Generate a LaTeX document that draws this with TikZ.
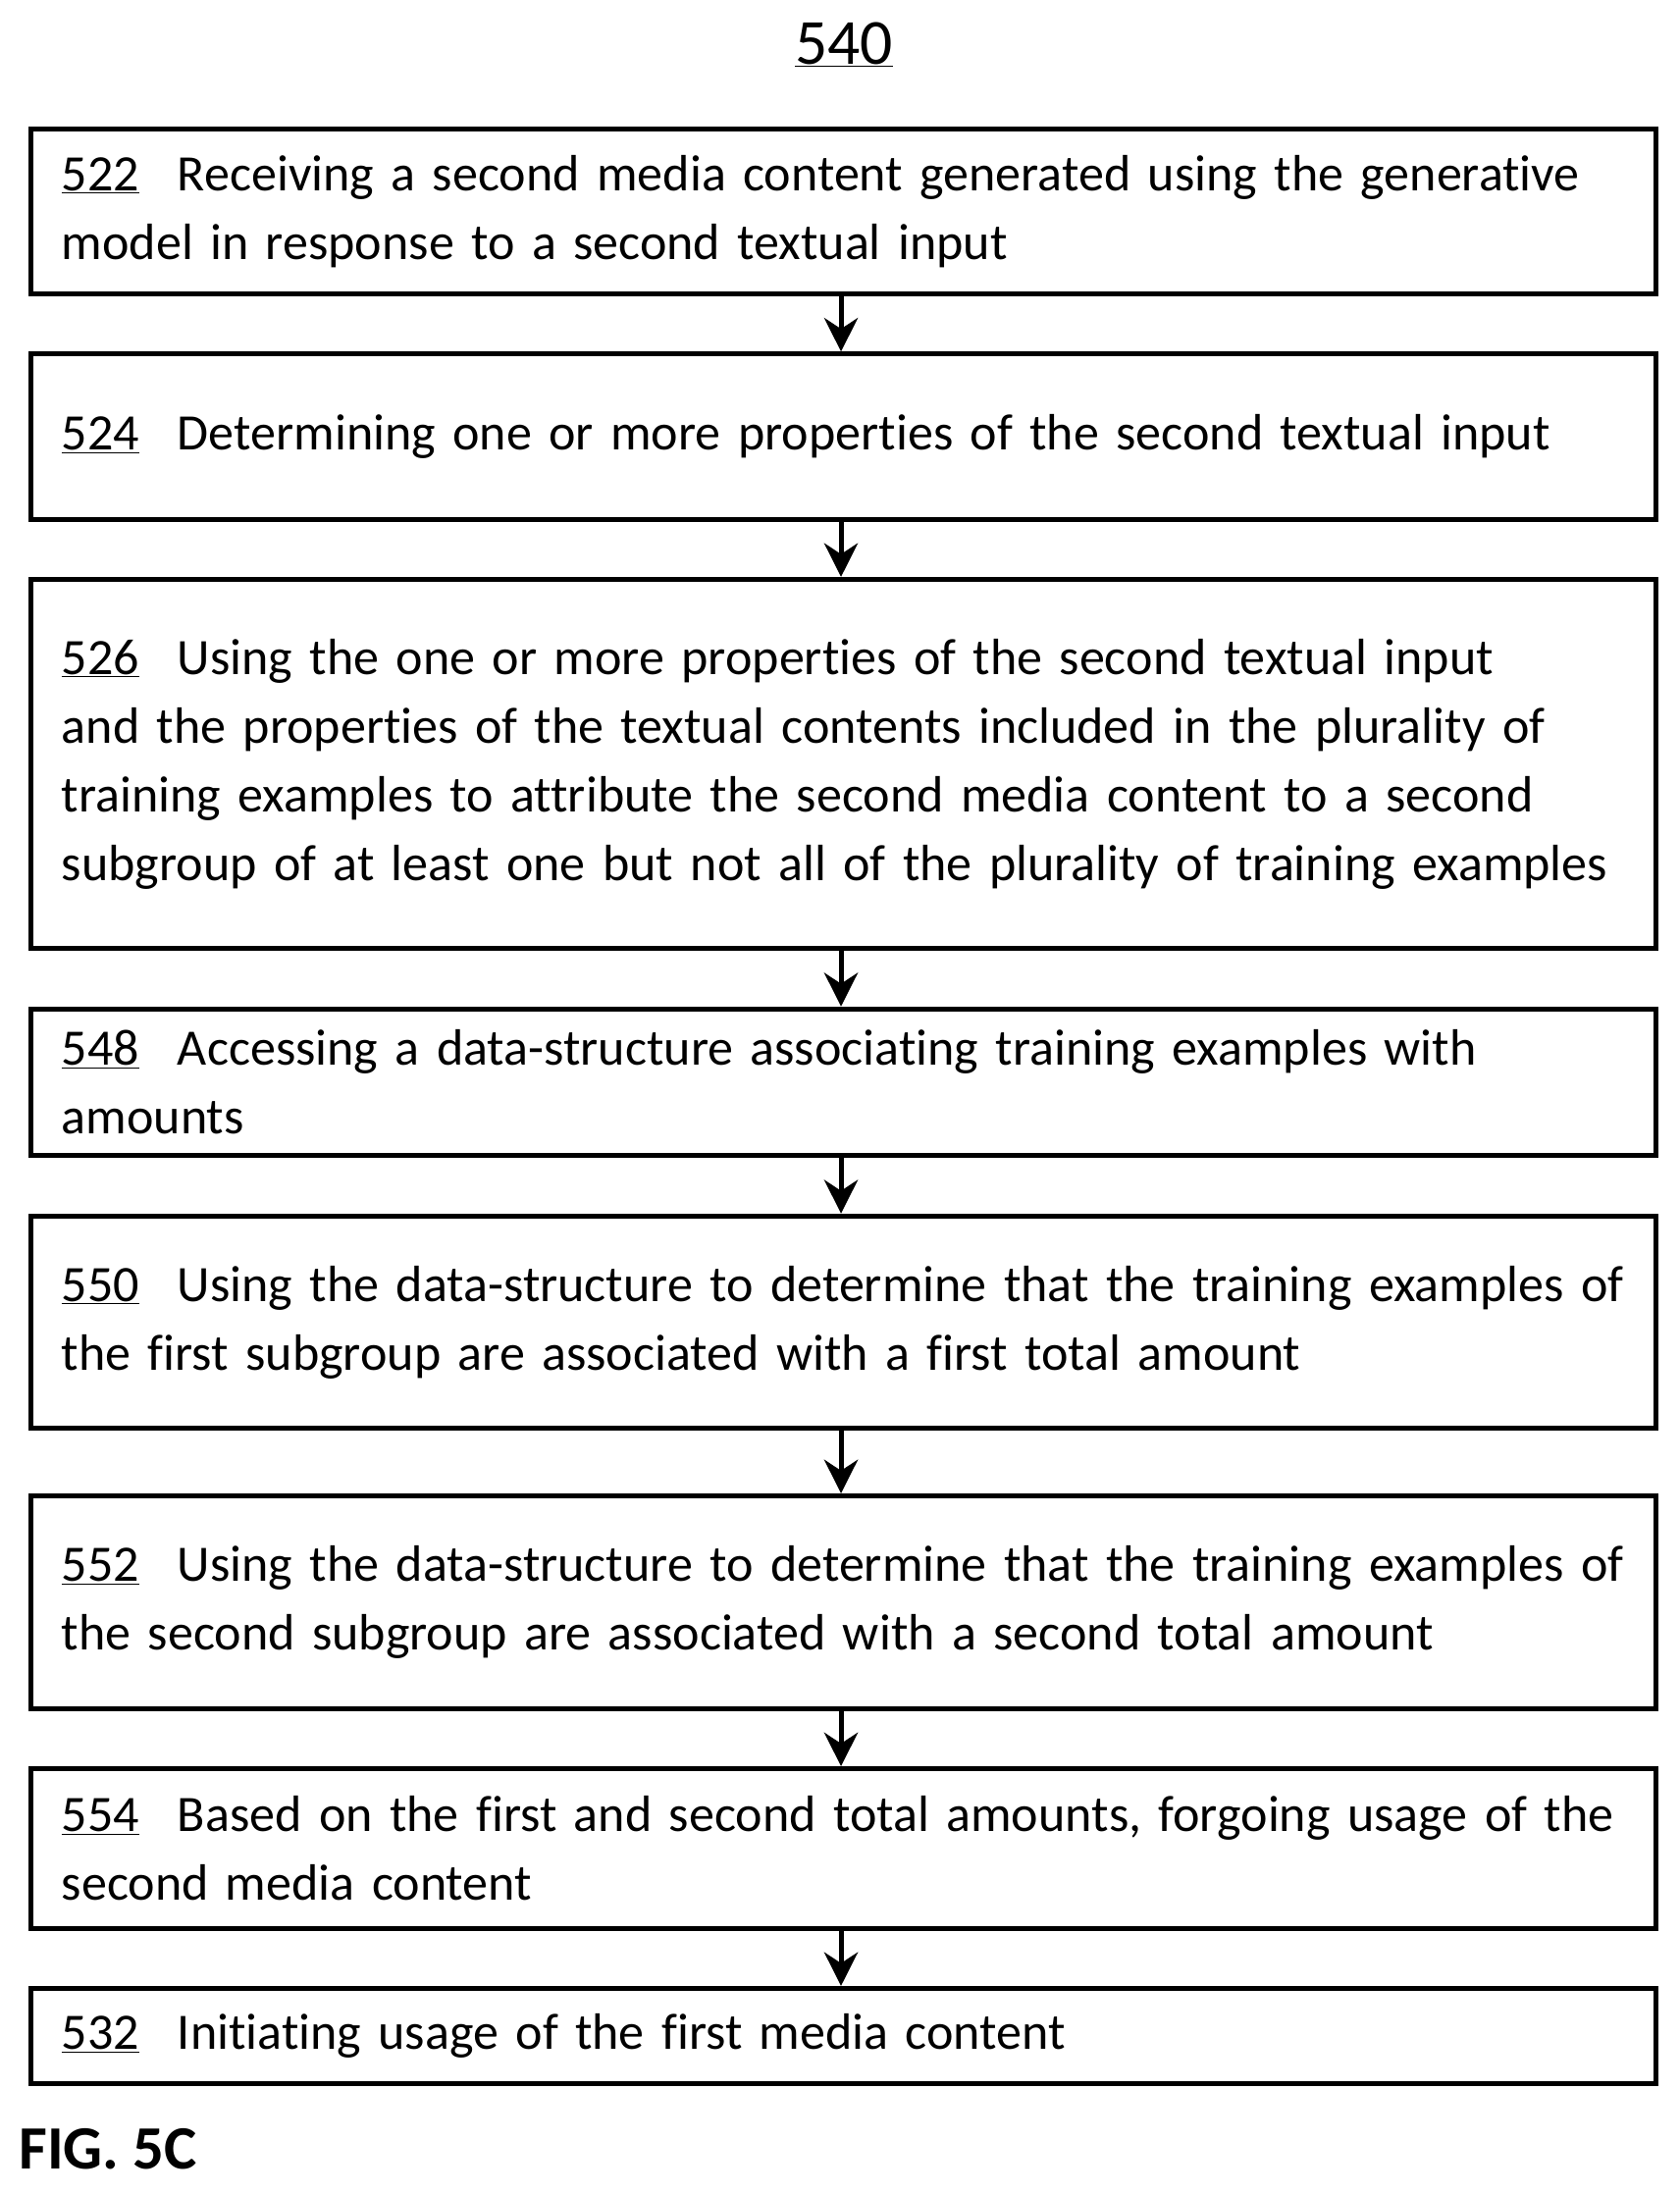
\documentclass[tikz,border=0pt]{standalone}
\usepackage{fontspec}
\setmainfont{Carlito}[Ligatures=NoCommon]
\usetikzlibrary{arrows.meta}
\newcommand{\nohy}{\hyphenpenalty=10000\relax\exhyphenpenalty=10000\relax}
\begin{document}
\begin{tikzpicture}[x=1pt,y=1pt,
  box/.style={draw,line width=3.5pt,text width=1117pt,align=left,inner xsep=20pt,inner ysep=0pt,font=\fontsize{36.5}{49}\selectfont,execute at begin node=\nohy,minimum width=1161pt},
  arr/.style={-{Stealth[length=24pt,width=24pt]},line width=3.5pt}]
\useasboundingbox (0,0) rectangle (1200,-1568);
\newcommand{\nm}[1]{\underline{#1}\hspace{0.75em}}
\node[font=\fontsize{46}{50}\selectfont] (t) at (603,-32) {\underline{540}};
\node[box,minimum height=118pt] (a) at (602.5,-151) {\nm{522}Receiving a second media content generated using the generative model in response to a second textual input};
\node[box,minimum height=118pt] (b) at (602.5,-312) {\nm{524}Determining one or more properties of the second textual input};
\node[box,minimum height=264pt] (c) at (602.5,-546) {\nm{526}Using the one or more properties of the second textual input and the properties of the textual contents included in the plurality of training examples to attribute the second media content to a second subgroup of at least one but not all of the plurality of training examples};
\node[box,minimum height=105pt] (d) at (602.5,-773.5) {\nm{548}Accessing a data-structure associating training examples with amounts};
\node[box,minimum height=152pt] (e) at (602.5,-945) {\nm{550}Using the data-structure to determine that the training examples of the first subgroup are associated with a first total amount};
\node[box,minimum height=152pt] (f) at (602.5,-1145) {\nm{552}Using the data-structure to determine that the training examples of the second subgroup are associated with a second total amount};
\node[box,minimum height=114pt] (g) at (602.5,-1321) {\nm{554}Based on the first and second total amounts, forgoing usage of the second media content};
\node[box,minimum height=68pt] (h) at (602.5,-1455) {\nm{532}Initiating usage of the first media content};
\foreach \p/\q in {a/b,b/c,c/d,d/e,e/f,f/g,g/h}
  \draw[arr] ([xshift=-1.5pt]\p.south) -- ([xshift=-1.5pt]\q.north);
\node[anchor=west,font=\bfseries\fontsize{44}{48}\selectfont] (fig) at (10,-1536) {FIG. 5C};
\end{tikzpicture}
\end{document}
